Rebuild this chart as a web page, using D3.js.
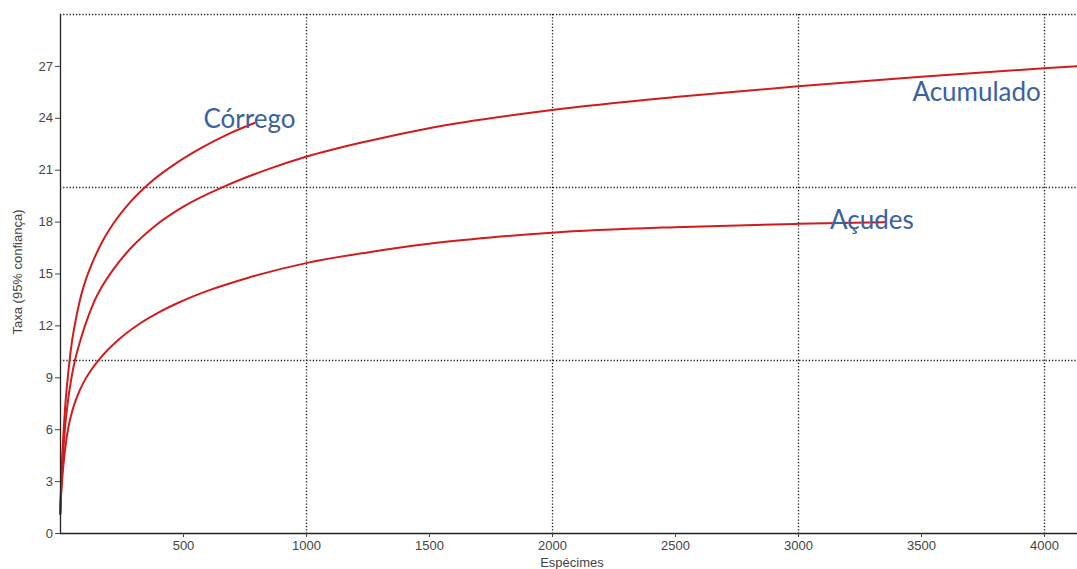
<!DOCTYPE html>
<html>
<head>
<meta charset="utf-8">
<script src="https://cdn.jsdelivr.net/npm/d3@7"></script>
<style>
  html, body { margin: 0; padding: 0; background: #fff; }
  svg { display: block; }
</style>
</head>
<body>
<svg id="chart" width="1077" height="569"></svg>
<script>
// Rarefaction curves: taxa (95% confidence) versus number of specimens
const corrego = [
  [1, 1.1], [3, 2.1], [6, 3.4], [10, 4.7], [15, 6], [21, 7.3], [27, 8.3], [33, 9.2],
  [40, 10.1], [48, 11.0], [61, 12.1], [80, 13.4], [104, 14.6], [140, 15.9],
  [180, 17.05], [220, 17.95], [290, 19.2], [366, 20.25], [470, 21.35], [580, 22.3],
  [690, 23.1], [790, 23.7]
];
const acumulado = [
  [1, 1.1], [3, 1.9], [7, 3.1], [12, 4.4], [20, 6], [32, 7.6], [47, 9], [61, 10],
  [80, 11.0], [102, 12.0], [135, 13.25], [169, 14.2], [220, 15.3], [290, 16.5],
  [386, 17.75], [500, 18.85], [671, 20.05], [850, 21.05], [1000, 21.75], [1250, 22.65],
  [1500, 23.4], [2000, 24.45], [2500, 25.2], [3000, 25.82], [3500, 26.37],
  [4000, 26.86], [4134, 26.98]
];
const acudes = [
  [1, 1.1], [4, 2.1], [10, 3.3], [18, 4.5], [26, 5.4], [34, 6.1], [50, 7.06], [70, 7.9],
  [95, 8.68], [125, 9.39], [169, 10.2], [240, 11.2], [325, 12.11], [400, 12.74],
  [481, 13.31], [616, 14.08], [759, 14.73], [1000, 15.6], [1250, 16.22], [1500, 16.72],
  [1750, 17.08], [2000, 17.36], [2500, 17.68], [3000, 17.87], [3350, 17.97]
];

const seriesNames = ["Córrego", "Acumulado", "Açudes"];
const seriesData = [corrego, acumulado, acudes];
// label anchor (data coordinates) for each curve name
const labelAt = [[583, 23.4], [3465, 24.95], [3130, 17.6]];

const xTicks = [500, 1000, 1500, 2000, 2500, 3000, 3500, 4000];
const yTicks = [0, 3, 6, 9, 12, 15, 18, 21, 24, 27];
const xGrid = [1000, 2000, 3000, 4000];
const yGrid = [10, 20, 30];
const xTitle = "Espécimes";
const yTitle = "Taxa (95% confiança)";

const W = 1077, H = 569;
const margin = { left: 60, top: 14, right: 0, bottom: 36 };

const x = d3.scaleLinear().domain([0, 4134]).range([margin.left, W - margin.right]);
const y = d3.scaleLinear().domain([0, 30]).range([H - margin.bottom, margin.top]);

const svg = d3.select("#chart");

// dotted grid
const grid = svg.append("g")
  .attr("stroke", "#111")
  .attr("stroke-width", 1.3)
  .attr("stroke-dasharray", "1.2,2");
grid.selectAll("line.h").data(yGrid).join("line")
  .attr("class", "h")
  .attr("x1", x(0)).attr("x2", W)
  .attr("y1", d => Math.round(y(d)) + 0.5).attr("y2", d => Math.round(y(d)) + 0.5);
grid.selectAll("line.v").data(xGrid).join("line")
  .attr("class", "v")
  .attr("y1", y(30)).attr("y2", y(0))
  .attr("x1", d => Math.round(x(d)) + 0.5).attr("x2", d => Math.round(x(d)) + 0.5);

// curves
const line = d3.line()
  .x(d => x(d[0]))
  .y(d => y(d[1]))
  .curve(d3.curveMonotoneX);

svg.append("g").selectAll("path").data(seriesData).join("path")
  .attr("d", line)
  .attr("fill", "none")
  .attr("stroke", "#d01c1c")
  .attr("stroke-width", 2)
  .attr("stroke-linejoin", "round")
  .attr("stroke-linecap", "round");

// axes
const axisFont = "'Liberation Sans', Arial, sans-serif";
const fmt = d3.format("d");
const yAxis = svg.append("g")
  .attr("transform", `translate(${x(0)},0)`)
  .call(d3.axisLeft(y).tickValues(yTicks).tickFormat(fmt)
    .tickSize(5).tickPadding(2).tickSizeOuter(0));
const xAxis = svg.append("g")
  .attr("transform", `translate(0,${y(0)})`)
  .call(d3.axisBottom(x).tickValues(xTicks).tickFormat(fmt)
    .tickSize(4).tickPadding(4).tickSizeOuter(0));

[xAxis, yAxis].forEach(g => {
  g.select(".domain").attr("stroke", "#222").attr("stroke-width", 1.3);
  g.selectAll(".tick line").attr("stroke", "#444");
  g.selectAll(".tick text")
    .attr("fill", "#444")
    .style("font-family", axisFont)
    .style("font-size", "13px");
});
yAxis.select(".domain").attr("d", `M0.5,${y(30)}V${y(0)}`);
xAxis.select(".domain").attr("d", `M${x(0)},0.5H${W}`);

// axis titles
svg.append("text")
  .attr("x", 572).attr("y", 567)
  .attr("text-anchor", "middle")
  .attr("fill", "#444")
  .style("font-family", axisFont)
  .style("font-size", "13px")
  .text(xTitle);
svg.append("text")
  .attr("transform", "translate(22,272) rotate(-90)")
  .attr("text-anchor", "middle")
  .attr("fill", "#444")
  .style("font-family", axisFont)
  .style("font-size", "13px")
  .text(yTitle);

// curve names
svg.append("g").selectAll("text").data(seriesNames).join("text")
  .attr("x", (d, i) => x(labelAt[i][0]))
  .attr("y", (d, i) => y(labelAt[i][1]))
  .attr("fill", "#3b62a0")
  .style("font-family", "Lato, 'Open Sans', sans-serif")
  .style("font-size", "26px")
  .text(d => d);
</script>
</body>
</html>
